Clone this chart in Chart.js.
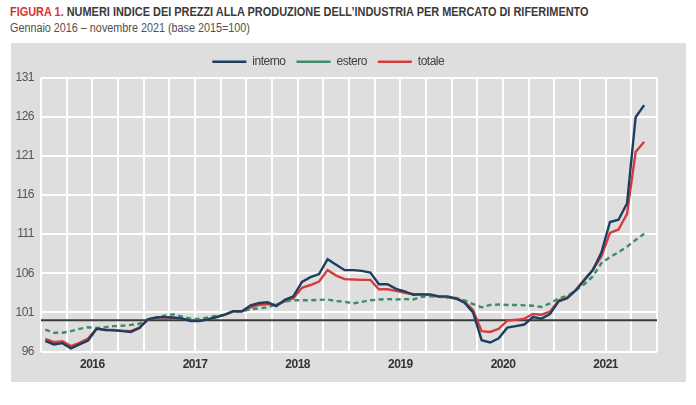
<!DOCTYPE html>
<html>
<head>
<meta charset="utf-8">
<script src="https://cdn.jsdelivr.net/npm/chart.js@4/dist/chart.umd.min.js"></script>
<style>
  body { margin: 0; background: #fff; width: 696px; height: 405px; position: relative; overflow: hidden;
         font-family: 'Liberation Sans Narrow', 'Arial Narrow', 'Liberation Sans', sans-serif; }
  #title { position: absolute; left: 10px; top: 4px; font-size: 13.5px; font-weight: bold; color: #3a3a3a;
           white-space: nowrap; transform: scaleX(0.81); transform-origin: 0 0; }
  #title span { color: #d9342b; }
  #sub { position: absolute; left: 10px; top: 21px; font-size: 12px; color: #505050; white-space: nowrap;
         transform: scaleX(0.9); transform-origin: 0 0; }
  #panel { position: absolute; left: 11px; top: 43px; width: 675px; height: 339px; background: #dedede; }
  #panel canvas { position: absolute; left: 0; top: 0; }
</style>
</head>
<body>
<div id="title"><span>FIGURA 1.</span> NUMERI INDICE DEI PREZZI ALLA PRODUZIONE DELL’INDUSTRIA PER MERCATO DI RIFERIMENTO</div>
<div id="sub">Gennaio 2016 –  novembre 2021 (base 2015=100)</div>
<div id="panel"><canvas id="chart" width="675" height="339"></canvas></div>
<script>
// anni sull'asse x (etichetta al centro di ogni anno)
var anni = [2016, 2017, 2018, 2019, 2020, 2021];
var yTicks = [96, 101, 106, 111, 116, 121, 126, 131];
var base = 100;

// gennaio 2016 - novembre 2021, mensile
var interno = [
  97.36, 96.9, 97.07, 96.4, 96.9, 97.4, 98.9, 98.75, 98.7, 98.6, 98.5, 99.0,
  100.1, 100.35, 100.4, 100.35, 100.2, 99.9, 99.9, 100.1, 100.4, 100.7, 101.15, 101.15,
  101.9, 102.2, 102.3, 101.8, 102.6, 103.05, 104.9, 105.5, 105.9, 107.8, 107.1, 106.4,
  106.4, 106.3, 106.1, 104.6, 104.6, 104.0, 103.7, 103.25, 103.3, 103.3, 103.05, 103.05,
  102.8, 102.25, 101.0, 97.45, 97.15, 97.7, 99.05, 99.25, 99.45, 100.4, 100.2, 100.8,
  102.4, 102.8, 103.8, 105.1, 106.4, 108.65, 112.55, 112.85, 114.95, 125.95, 127.5
];
var estero = [
  98.8, 98.4, 98.4, 98.6, 98.9, 99.1, 99.0, 99.1, 99.25, 99.3, 99.4, 99.55,
  100.1, 100.3, 100.6, 100.75, 100.45, 100.2, 100.15, 100.35, 100.55, 100.7, 101.15, 101.15,
  101.4, 101.5, 101.65, 102.0, 102.4, 102.55, 102.55, 102.55, 102.6, 102.65, 102.45, 102.35,
  102.15, 102.35, 102.55, 102.65, 102.7, 102.65, 102.7, 102.65, 103.0, 103.05, 103.0, 102.9,
  102.85, 102.55, 102.05, 101.65, 101.95, 102.0, 101.95, 101.95, 101.9, 101.85, 101.7, 102.15,
  102.8, 103.1, 103.8, 104.6, 105.6, 107.3, 108.05, 108.7, 109.4, 110.25, 111.05
];
var totale = [
  97.6, 97.2, 97.3, 96.7, 97.1, 97.65, 98.95, 98.8, 98.75, 98.65, 98.6, 99.05,
  100.1, 100.35, 100.4, 100.25, 100.2, 99.95, 99.95, 100.1, 100.4, 100.7, 101.15, 101.15,
  101.65, 101.95, 102.05, 101.95, 102.4, 102.8, 104.15, 104.5, 104.95, 106.4, 105.7, 105.25,
  105.2, 105.15, 105.15, 103.95, 103.95, 103.75, 103.5, 103.35, 103.3, 103.2, 103.0, 102.95,
  102.75, 102.4, 101.3, 98.6, 98.5, 98.9, 99.95, 100.05, 100.2, 100.8, 100.7, 101.1,
  102.55, 102.9, 103.85, 105.2, 106.45, 108.15, 111.15, 111.6, 113.6, 121.5, 122.8
];

// ogni mese sta al centro del suo intervallo
function punti(arr) {
  return arr.map(function (v, i) { return { x: i + 0.5, y: v }; });
}

var font = "'Liberation Sans Narrow', 'Arial Narrow', 'Liberation Sans', sans-serif";

// testo un po' più stretto, come nell'originale
var stretto = {
  id: 'stretto',
  beforeDraw: function (chart) { chart.ctx.letterSpacing = '-0.5px'; }
};

// linea nera a quota 100
var baseLine = {
  id: 'baseLine',
  beforeDatasetsDraw: function (chart) {
    var ctx = chart.ctx, a = chart.chartArea;
    var y = chart.scales.y.getPixelForValue(base);
    ctx.save();
    ctx.strokeStyle = '#3b3b3b';
    ctx.lineWidth = 2;
    ctx.beginPath();
    ctx.moveTo(a.left, y);
    ctx.lineTo(a.right, y);
    ctx.stroke();
    ctx.restore();
  }
};

var ctx = document.getElementById('chart').getContext('2d');
new Chart(ctx, {
  type: 'line',
  data: {
    datasets: [{
      label: 'interno',
      data: punti(interno),
      borderColor: '#1f3e5e',
      borderWidth: 2.4
    }, {
      label: 'estero',
      data: punti(estero),
      borderColor: '#3f8c68',
      borderWidth: 2.4,
      borderDash: [5, 3.5]
    }, {
      label: 'totale',
      data: punti(totale),
      borderColor: '#d43c3e',
      borderWidth: 2.4
    }]
  },
  options: {
    responsive: false,
    animation: false,
    layout: { padding: { left: 0, right: 29, top: 7.4, bottom: 0 } },
    elements: { point: { radius: 0 }, line: { tension: 0 } },
    plugins: {
      tooltip: { enabled: false },
      legend: {
        position: 'top',
        labels: {
          usePointStyle: true,
          pointStyle: 'line',
          pointStyleWidth: 34,
          boxHeight: 2,
          padding: 5.3,
          color: '#404040',
          font: { family: font, size: 12 },
          // un po' più di spazio tra le voci
          generateLabels: function (chart) {
            var items = Chart.defaults.plugins.legend.labels.generateLabels(chart);
            items.forEach(function (it, i) { if (i < items.length - 1) it.text += '  '; });
            return items;
          }
        }
      }
    },
    scales: {
      x: {
        type: 'linear',
        min: 0,
        max: anni.length * 12,
        afterFit: function (s) { s.height = 30.5; },
        border: { display: false },
        grid: { color: '#ffffff', lineWidth: 2, drawTicks: false },
        ticks: {
          stepSize: 3,
          autoSkip: false,
          maxRotation: 0,
          padding: 6,
          color: '#333333',
          font: { family: font, size: 12, weight: 'bold' },
          callback: function (v) {
            return v % 12 === 6 ? String(anni[(v - 6) / 12]) : '';
          }
        }
      },
      y: {
        min: yTicks[0],
        max: yTicks[yTicks.length - 1],
        afterFit: function (s) { s.width = 30; },
        afterBuildTicks: function (s) { s.ticks = yTicks.map(function (v) { return { value: v }; }); },
        border: { display: false },
        grid: { color: '#ffffff', lineWidth: 2, drawTicks: false },
        ticks: {
          padding: 7,
          color: '#555555',
          font: { family: font, size: 12 }
        }
      }
    }
  },
  plugins: [stretto, baseLine]
});
</script>
</body>
</html>
